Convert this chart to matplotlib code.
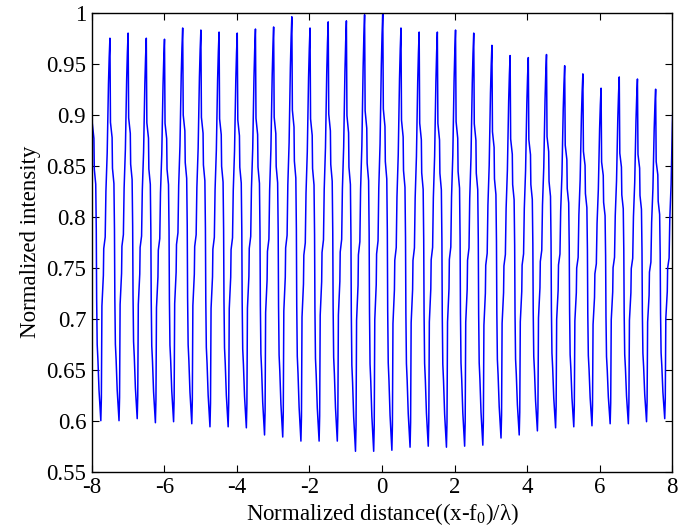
import numpy as np
import matplotlib
matplotlib.use("Agg")
import matplotlib.pyplot as plt

# --- Data ---
# fringe maxima, one per fringe starting at x = -8 (last one lies just past x = 8)
peaks = [0.974, 0.975, 0.980, 0.975, 0.974, 0.985, 0.983, 0.981,
         0.980, 0.984, 0.986, 0.996, 0.985, 0.991, 0.992, 0.998,
         1.000, 0.985, 0.981, 0.981, 0.983, 0.980, 0.968, 0.958,
         0.956, 0.959, 0.948, 0.940, 0.926, 0.937, 0.935, 0.925,
         0.930]
# fringe minima, half way between the maxima (x = -7.75 ... 7.75)
troughs = [0.600, 0.600, 0.602, 0.598, 0.599, 0.597, 0.594, 0.594,
           0.593, 0.586, 0.584, 0.580, 0.580, 0.580, 0.570, 0.570,
           0.571, 0.574, 0.575, 0.574, 0.575, 0.576, 0.583, 0.586,
           0.590, 0.593, 0.594, 0.595, 0.597, 0.597, 0.599, 0.602]
# shape of one fringe: phase in the period and relative level (0 = minimum, 1 = maximum)
shape_phase = [0.00, 0.03, 0.12, 0.14, 0.22, 0.25, 0.27, 0.30, 0.34, 0.40, 0.50,
               0.53, 0.56, 0.64, 0.66, 0.74, 0.78, 0.82, 0.85, 0.92, 0.96, 1.00]
shape_level = [1.00, 0.78, 0.74, 0.66, 0.62, 0.50, 0.32, 0.20, 0.16, 0.08, 0.00,
               0.06, 0.30, 0.38, 0.45, 0.48, 0.60, 0.66, 0.70, 0.88, 0.95, 1.00]

x_start = -8.0
period = 0.5013

xs, ys = [], []
for k in range(len(troughs)):
    x0 = x_start + k * period
    for ph, lv in zip(shape_phase, shape_level):
        if ph == 1.00 and k < len(troughs) - 1:
            continue
        top = peaks[k] if ph <= 0.5 else peaks[k + 1]
        xs.append(x0 + ph * period)
        ys.append(troughs[k] + lv * (top - troughs[k]))

# --- Plot ---
plt.rcParams['font.family'] = ['Liberation Serif', 'DejaVu Serif']
plt.rcParams['mathtext.fontset'] = 'custom'
plt.rcParams['mathtext.rm'] = 'Liberation Serif'
plt.rcParams['mathtext.it'] = 'Liberation Serif:italic'
plt.rcParams['axes.unicode_minus'] = False

fig = plt.figure(figsize=(6.8, 5.31), dpi=100)
ax = fig.add_axes([0.1349, 0.1117, 0.8538, 0.8644])
ax.plot(xs, ys, color='#0000ff', lw=1.1)

ax.set_xlim(-8, 8)
ax.set_ylim(0.55, 1.0)
ax.set_xticks(np.arange(-8, 9, 2))
yt = np.round(np.arange(0.55, 1.001, 0.05), 2)
ax.set_yticks(yt)
ax.set_yticklabels([f"{v:g}" for v in yt])
ax.tick_params(direction='in', length=5, width=0.8, top=True, right=True,
               labelsize=16.5, pad=4, colors='black')
for s in ax.spines.values():
    s.set_linewidth(1.0)
    s.set_color('black')

ax.set_xlabel(r'Normalized distance((x-f$_0$)/λ)', fontsize=16.5, labelpad=2)
ax.set_ylabel('Normalized intensity', fontsize=16.5, labelpad=4)

fig.savefig('out.png', dpi=100)
